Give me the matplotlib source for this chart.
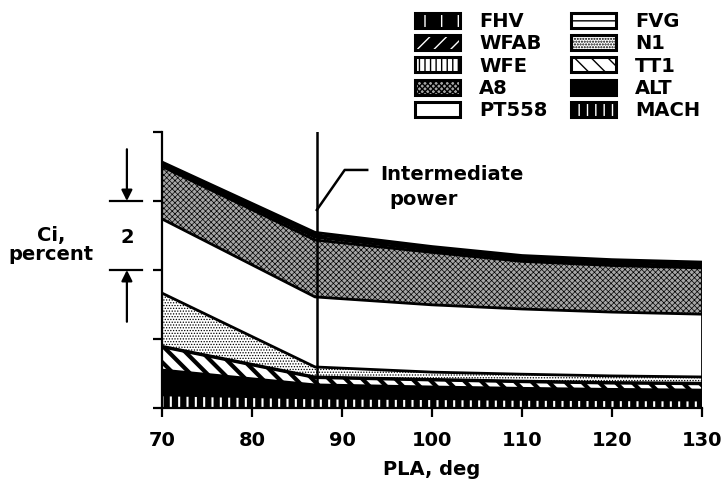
import numpy as np
import matplotlib
matplotlib.use("Agg")
import matplotlib.pyplot as plt
from matplotlib.patches import Patch
from matplotlib.legend_handler import HandlerTuple

plt.rcParams['font.family'] = ['DejaVu Sans']
plt.rcParams['font.weight'] = 'bold'

# ---- data (PLA, deg) and component contributions (percent) ----
pla = [70, 87, 100, 110, 120, 130]
mach = [0.38, 0.29, 0.27, 0.25, 0.24, 0.23]
alt = [0.72, 0.38, 0.34, 0.32, 0.30, 0.29]
tt1 = [0.67, 0.21, 0.20, 0.19, 0.18, 0.18]
fvg = [0.02, 0.02, 0.02, 0.02, 0.02, 0.02]
n1 = [1.54, 0.29, 0.21, 0.20, 0.19, 0.18]
pt558 = [2.15, 2.03, 1.95, 1.89, 1.85, 1.82]
a8 = [1.52, 1.65, 1.52, 1.38, 1.35, 1.34]
wfe = [0.05, 0.08, 0.06, 0.06, 0.06, 0.06]
wfab = [0.04, 0.07, 0.06, 0.06, 0.06, 0.06]
fhv = [0.04, 0.07, 0.05, 0.05, 0.05, 0.05]

intermediate_pla = 87.2
xticks = [70, 80, 90, 100, 110, 120, 130]
yticks = [0, 2, 4, 6, 8]

layers = [("MACH", mach), ("ALT", alt), ("TT1", tt1), ("FVG", fvg), ("N1", n1),
          ("PT558", pt558), ("A8", a8), ("WFE", wfe), ("WFAB", wfab), ("FHV", fhv)]

# face colour, hatch colour, hatch, hatch linewidth
styles = {
    "FHV":   ("black", "white", "|", 4.0),
    "WFAB":  ("black", "white", "//", 2.5),
    "WFE":   ("white", "black", "|||", 1.5),
    "A8":    ("#a6a6a6", "black", "xxxxxx", 0.5),
    "PT558": ("white", "white", "", 1.0),
    "FVG":   ("white", "black", "--", 2.0),
    "N1":    ("white", "black", "......", 0.6),
    "TT1":   ("white", "black", "\\\\", 3.0),
    "ALT":   ("black", "black", "", 1.0),
    "MACH":  ("black", "white", "||", 1.5),
}

FS = 14

fig = plt.figure(figsize=(7.25, 4.91), dpi=100)
ax = fig.add_axes([162 / 725, 83 / 491, 540 / 725, 276 / 491])

x = np.array(pla, dtype=float)
base = np.zeros_like(x)
for name, vals in layers:
    top = base + np.array(vals)
    fc, hc, h, hlw = styles[name]
    with plt.rc_context({'hatch.linewidth': hlw}):
        ax.fill_between(x, base, top, facecolor=fc, edgecolor=hc, hatch=h,
                        linewidth=0, zorder=2)
    ax.plot(x, top, color='black', lw=2.0, zorder=3, solid_joinstyle='round')
    base = top
ax.plot([pla[-1], pla[-1]], [0, base[-1]], color='black', lw=2.0, zorder=3)

ax.axvline(intermediate_pla, color='black', lw=1.8, zorder=4)
ax.plot([87.2, 90.3, 92.8], [5.74, 6.9, 6.9], color='black', lw=1.8, zorder=4, clip_on=False)
ax.text(94.2, 6.78, "Intermediate", fontsize=FS, fontweight='bold', ha='left', va='center')
ax.text(95.3, 6.05, "power", fontsize=FS, fontweight='bold', ha='left', va='center')

ax.set_xlim(70, 130)
ax.set_ylim(0, 8)
ax.set_xticks(xticks)
ax.set_xticklabels([str(t) for t in xticks], fontsize=FS, fontweight='bold')
ax.set_yticks(yticks)
ax.set_yticklabels([])
ax.tick_params(axis='both', direction='out', length=6.5, width=1.6, pad=10)
for s in ['top', 'right']:
    ax.spines[s].set_visible(False)
for s in ['left', 'bottom']:
    ax.spines[s].set_linewidth(1.6)
ax.set_xlabel("PLA, deg", fontsize=FS, fontweight='bold', labelpad=7)

# y-axis label and scale bracket
ax.text(57.7, 4.72, "Ci,\npercent", fontsize=FS, fontweight='bold', ha='center',
        va='center', linespacing=1.0, clip_on=False)
ax.text(66.1, 4.93, "2", fontsize=FS, fontweight='bold', ha='center', va='center')
ax.plot([64.2, 67.8], [6, 6], color='black', lw=1.6, clip_on=False)
ax.plot([64.2, 67.8], [4, 4], color='black', lw=1.6, clip_on=False)
ax.annotate("", xy=(66.1, 6.0), xytext=(66.1, 7.5), annotation_clip=False,
            arrowprops=dict(arrowstyle='-|>', color='black', lw=1.6, mutation_scale=16,
                            shrinkA=0, shrinkB=0))
ax.annotate("", xy=(66.1, 4.0), xytext=(66.1, 2.5), annotation_clip=False,
            arrowprops=dict(arrowstyle='-|>', color='black', lw=1.6, mutation_scale=16,
                            shrinkA=0, shrinkB=0))

# legend
order = ["FHV", "WFAB", "WFE", "A8", "PT558", "FVG", "N1", "TT1", "ALT", "MACH"]
handles = []
for name in order:
    fc, hc, h, hlw = styles[name]
    with plt.rc_context({'hatch.linewidth': hlw}):
        p_fill = Patch(facecolor=fc, edgecolor=hc, hatch=h, linewidth=0)
    p_edge = Patch(facecolor='none', edgecolor='black', linewidth=2.2)
    handles.append((p_fill, p_edge))
fig.legend(handles, order, handler_map={tuple: HandlerTuple(ndivide=1, pad=0)},
           loc='upper left', bbox_to_anchor=(415 / 725, 1 - 12 / 491), ncol=2,
           frameon=False, prop={'weight': 'bold', 'size': FS},
           handlelength=2.3, handleheight=0.8, handletextpad=1.0,
           columnspacing=1.2, labelspacing=0.17, borderpad=0, borderaxespad=0)

fig.savefig("out.png", dpi=100)
